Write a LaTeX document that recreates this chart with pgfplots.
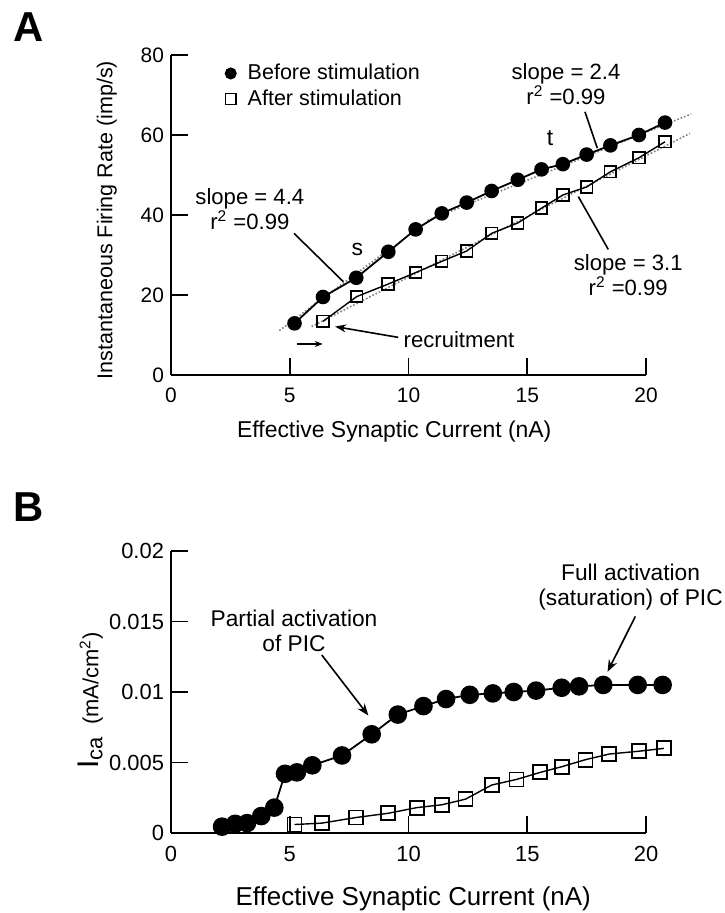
\documentclass[border=0pt]{standalone}
\usepackage{fontspec}
\setmainfont{Liberation Sans}
\usepackage{pgfplots}
\pgfplotsset{compat=1.18}
\usetikzlibrary{arrows.meta}
\newcommand{\tickfont}{\fontsize{10.5}{12}\selectfont}
\newcommand{\annfont}{\fontsize{11.1}{12.5}\selectfont}
\newcommand{\legfont}{\fontsize{10.8}{12.5}\selectfont}
\newcommand{\annBfont}{\fontsize{11.4}{12.6}\selectfont}
\begin{document}
\begin{tikzpicture}[x=1bp,y=1bp]
\useasboundingbox (0,0) rectangle (362,456.5);
\node[font=\fontsize{21}{21}\selectfont\bfseries] at (14.5,443) {A};
\node[font=\fontsize{21}{21}\selectfont\bfseries] at (14.5,203) {B};

% ---------------- Panel A ----------------
\begin{axis}[
  at={(85.5bp,269bp)}, anchor=south west,
  scale only axis, width=237.5bp, height=160bp,
  xmin=0, xmax=20, ymin=0, ymax=80,
  axis x line=bottom, axis y line=left,
  axis line style={-, line width=1bp},
  xtick={0,5,10,15,20}, ytick={0,20,40,60,80},
  tick align=inside, major tick length=8.5bp,
  tick style={line width=0.9bp, black},
  clip=false,
  /pgf/number format/assume math mode=true,
  ticklabel style={font=\tickfont},
  xticklabel style={yshift=-3bp},
  xlabel={Effective Synaptic Current (nA)},
  xlabel style={font=\fontsize{11.5}{13}\selectfont, at={(axis description cs:0.47,-0.178)}, anchor=center},
  ylabel={Instantaneous Firing Rate (imp/s)},
  ylabel style={font=\fontsize{10.8}{13}\selectfont, at={(axis description cs:-0.135,0.484)}, anchor=center},
  legend style={at={(axis cs:2.27,78.8)}, anchor=north west, draw=none, fill=none,
    font=\legfont, row sep=-0.5bp, inner sep=0pt, cells={anchor=west},
    /tikz/every odd column/.append style={column sep=3.8bp}},
]
\addlegendimage{legend image code/.code={\draw[black, fill=black, line width=0.8bp] plot[mark=*, mark size=2.6bp, only marks] coordinates {(2.6bp,0bp)};}}
\addlegendimage{legend image code/.code={\draw[black, line width=0.8bp] plot[mark=square, mark size=2.7bp, only marks] coordinates {(2.6bp,0bp)};}}
\legend{Before stimulation, After stimulation}

% regression lines
\addplot[gray, densely dotted, line width=0.8bp] coordinates {(4.56,11.1) (9.0,30.6)};
\addplot[gray, densely dotted, line width=0.8bp] coordinates {(10.8,38.6) (21.9,65.25)};
\addplot[gray, densely dotted, line width=0.8bp] coordinates {(5.92,12.1) (21.85,60.4)};

% after stimulation
\addplot[black, line width=0.7bp, mark=square, mark size=2.9bp, mark options={line width=0.9bp, solid}] coordinates {
(6.4,13.4) (7.82,19.6) (9.13,22.7) (10.3,25.6) (11.4,28.4) (12.45,31.0) (13.5,35.4)
(14.6,38.0) (15.6,41.7) (16.5,45.0) (17.5,47.0) (18.5,50.8) (19.7,54.3) (20.8,58.3)};

% before stimulation
\addplot[black, line width=0.9bp, mark=*, mark size=3.2bp, mark options={fill=black}] coordinates {
(5.2,12.9) (6.4,19.5) (7.8,24.3) (9.15,30.8) (10.3,36.4) (11.4,40.4) (12.45,43.1)
(13.5,46.0) (14.6,48.8) (15.6,51.4) (16.5,52.7) (17.5,55.1) (18.5,57.4) (19.7,60.0) (20.8,63.1)};

% annotations
\node[font=\annfont, align=center] at (axis cs:3.32,41.45) {slope = 4.4\\r\textsuperscript{2} =0.99};
\node[font=\annfont, align=center] at (axis cs:16.63,72.7) {slope = 2.4\\r\textsuperscript{2} =0.99};
\node[font=\annfont, align=center] at (axis cs:19.25,25.0) {slope = 3.1\\r\textsuperscript{2} =0.99};
\node[font=\fontsize{11.5}{13}\selectfont] at (axis cs:7.85,31.4) {s};
\node[font=\fontsize{11.5}{13}\selectfont] at (axis cs:15.96,59.2) {t};
\node[font=\annfont, anchor=west, inner sep=0pt] at (axis cs:9.78,8.75) {recruitment};
\draw[line width=0.8bp] (axis cs:5.18,35.4) -- (axis cs:7.26,23.3);
\draw[line width=0.8bp] (axis cs:17.43,65.8) -- (axis cs:17.95,56.7);
\draw[line width=0.8bp] (axis cs:18.41,31.4) -- (axis cs:17.15,44.6);
\draw[-{Stealth[length=5.5bp,width=4bp]}, line width=0.8bp] (axis cs:9.57,9.4) -- (axis cs:6.91,12.1);
\draw[-{Stealth[length=4bp,width=3bp]}, line width=0.8bp] (axis cs:5.29,7.75) -- (axis cs:6.39,7.75);
\end{axis}

% ---------------- Panel B ----------------
\begin{axis}[
  at={(85.5bp,40bp)}, anchor=south west,
  scale only axis, width=237.5bp, height=141bp,
  xmin=0, xmax=20, ymin=0, ymax=0.02,
  axis x line=bottom, axis y line=left,
  axis line style={-, line width=1bp},
  xtick={0,5,10,15,20},
  ytick={0,0.005,0.01,0.015,0.02},
  yticklabels={0,0.005,0.01,0.015,0.02},
  scaled y ticks=false,
  tick align=inside, major tick length=8.5bp,
  tick style={line width=0.9bp, black},
  clip=false,
  /pgf/number format/assume math mode=true,
  ticklabel style={font=\fontsize{11}{13}\selectfont},
  xticklabel style={yshift=-3bp},
  xlabel={Effective Synaptic Current (nA)},
  xlabel style={font=\fontsize{13}{15}\selectfont, at={(axis description cs:0.51,-0.235)}, anchor=center},
  ylabel={{\fontsize{15}{15}\selectfont I}\raisebox{-0.35ex}{\fontsize{11}{12}\selectfont ca}\ \ (mA/cm\textsuperscript{2})},
  ylabel style={font=\fontsize{11}{13}\selectfont, at={(axis description cs:-0.17,0.47)}, anchor=center},
]
% after stimulation
\addplot[black, line width=0.7bp, mark=square, mark size=3.5bp, mark options={line width=0.9bp, solid}] coordinates {
(5.2,0.0006) (6.35,0.0007) (7.8,0.0011) (9.15,0.0014) (10.35,0.0018) (11.4,0.0020) (12.4,0.0024)
(13.5,0.0034) (14.55,0.0038) (15.55,0.0043) (16.45,0.0047) (17.45,0.0052) (18.45,0.0056) (19.7,0.0058) (20.75,0.0060)};
% before stimulation
\addplot[black, line width=0.9bp, mark=*, mark size=4.2bp, mark options={fill=black}] coordinates {
(2.15,0.00045) (2.7,0.00065) (3.2,0.0007) (3.8,0.0012) (4.35,0.0018)
(4.8,0.0042) (5.3,0.0043) (5.95,0.0048) (7.2,0.0055) (8.45,0.0070) (9.55,0.0084)
(10.63,0.0090) (11.58,0.0095) (12.58,0.0098) (13.55,0.0099) (14.43,0.0100) (15.37,0.0101)
(16.45,0.0103) (17.18,0.0104) (18.2,0.0105) (19.65,0.0105) (20.7,0.0105)};
% annotations
\node[font=\annBfont, align=center] at (axis cs:5.18,0.01435) {Partial activation\\of PIC};
\node[font=\annBfont, align=center] at (axis cs:19.35,0.01744) {Full activation\\(saturation) of PIC};
\draw[-{Stealth[length=6bp,width=4.5bp]}, line width=0.8bp] (axis cs:6.35,0.01262) -- (axis cs:8.31,0.00833);
\draw[-{Stealth[length=6bp,width=4.5bp]}, line width=0.8bp] (axis cs:19.55,0.01536) -- (axis cs:18.38,0.01143);
\end{axis}
\end{tikzpicture}
\end{document}
